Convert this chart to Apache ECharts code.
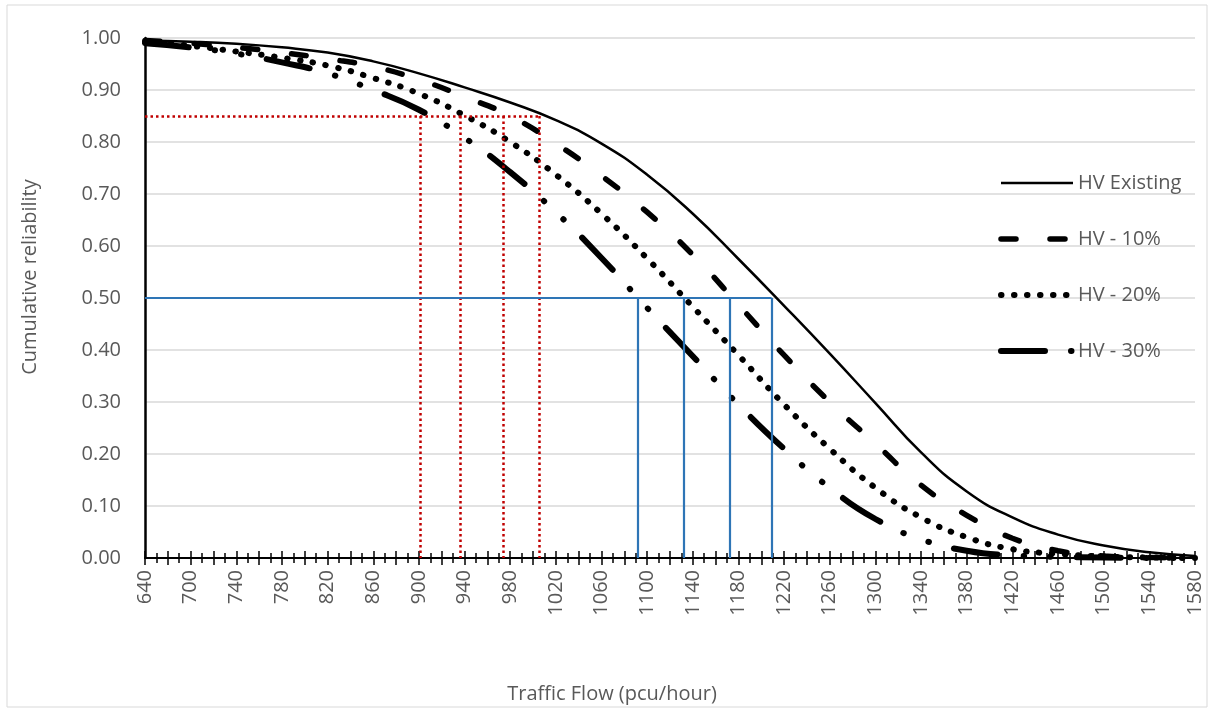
<!DOCTYPE html>
<html lang="en">
<head>
<meta charset="UTF-8">
<title>Cumulative reliability vs traffic flow</title>
<script src="https://cdn.jsdelivr.net/npm/echarts@6/dist/echarts.min.js"></script>
<style>
  html, body { margin: 0; background: #fff; }
  #chart { width: 1215px; height: 714px; }
</style>
</head>
<body>
<div id="chart"></div>
<script>
// tick labels printed under the x axis (one every 4 steps of 10 pcu/h)
const tickLabels = ['640', '700', '740', '780', '820', '860', '900', '940', '980', '1020', '1060', '1100',
  '1140', '1180', '1220', '1260', '1300', '1340', '1380', '1420', '1460', '1500', '1540', '1580'];

// flows where the curves were read
const flows = [660, 700, 740, 780, 820, 860, 900, 940, 980, 1020, 1060, 1100,
  1140, 1180, 1220, 1260, 1300, 1340, 1380, 1420, 1460, 1500, 1540, 1580];

const hvExisting = [0.995, 0.993, 0.989, 0.982, 0.972, 0.955, 0.932, 0.905, 0.876, 0.842, 0.797, 0.737,
  0.662, 0.575, 0.485, 0.393, 0.298, 0.203, 0.128, 0.078, 0.045, 0.024, 0.011, 0.004];
const hv10 = [0.995, 0.990, 0.982, 0.972, 0.960, 0.945, 0.920, 0.887, 0.850, 0.797, 0.735, 0.665,
  0.583, 0.487, 0.390, 0.300, 0.220, 0.140, 0.082, 0.038, 0.014, 0.004, 0.001, 0.000];
const hv20 = [0.993, 0.985, 0.974, 0.962, 0.947, 0.923, 0.893, 0.851, 0.800, 0.737, 0.662, 0.576,
  0.483, 0.390, 0.295, 0.210, 0.135, 0.078, 0.040, 0.017, 0.008, 0.003, 0.001, 0.000];
const hv30 = [0.990, 0.982, 0.970, 0.953, 0.932, 0.900, 0.862, 0.808, 0.742, 0.665, 0.577, 0.481,
  0.388, 0.295, 0.210, 0.135, 0.075, 0.036, 0.014, 0.005, 0.002, 0.001, 0.000, 0.000];

// reading lines: flow at 85 % and at 50 % reliability
const redLevel = 0.85;
const redFlows = [901, 936, 974, 1005];
const blueLevel = 0.5;
const blueFlows = [1092, 1132, 1172, 1209];

// the axis is laid out in steps of 10 pcu/h, first tick sits where 660 would be
const X0 = 660, STEP = 10;
const toX = f => (f - X0) / STEP;
const pts = vals => flows.map((f, i) => [toX(f), vals[i]]);

const FONT = 'Open Sans';
const GREY = '#595959';

// line looks shared by the curves and their legend entries
const styles = {
  'HV Existing': { color: '#000', width: 2.5 },
  'HV - 10%': { color: '#000', width: 5.5, type: [15, 34], cap: 'round' },
  'HV - 20%': { color: '#000', width: 6, type: [0.5, 12.5], cap: 'round' },
  'HV - 30%': { color: '#000', width: 6, type: [44, 26, 0.5, 26, 0.5, 26], cap: 'round' }
};

function guideLines(level, xs) {
  const lines = [[{ coord: [toX(X0), level] }, { coord: [toX(Math.max(...xs)), level] }]];
  xs.forEach(f => lines.push([{ coord: [toX(f), level] }, { coord: [toX(f), 0] }]));
  return lines;
}

function curve(name, vals) {
  return {
    name, type: 'line', smooth: true, symbol: 'none',
    data: pts(vals),
    itemStyle: { color: '#000' },
    lineStyle: styles[name]
  };
}

const chart = echarts.init(document.getElementById('chart'));
chart.setOption({
  animation: false,
  textStyle: { fontFamily: FONT },
  grid: { left: 145, right: 20, top: 38, bottom: 156 },
  legend: {
    data: Object.keys(styles).map(name => ({ name, lineStyle: styles[name] })),
    orient: 'vertical',
    left: 993,
    top: 168,
    itemWidth: 72,
    itemHeight: 14,
    itemGap: 36,
    itemStyle: { color: 'rgba(0,0,0,0)', borderWidth: 0 },
    textStyle: { color: GREY, fontSize: 20, fontFamily: FONT }
  },
  xAxis: [{
    type: 'value',
    min: 0,
    max: 92,
    interval: 2,
    axisLine: { lineStyle: { color: '#000', width: 2 } },
    axisTick: { length: 7, lineStyle: { color: '#000', width: 1.5 } },
    minorTick: { show: true, splitNumber: 2, length: 5, lineStyle: { color: '#000', width: 1.5 } },
    splitLine: { show: false },
    axisLabel: {
      rotate: 90,
      margin: 12,
      color: GREY,
      fontSize: 20,
      formatter: v => (v % 4 === 0 ? tickLabels[v / 4] : '')
    }
  }, {
    // second copy of the axis only to draw the tick halves above the line
    type: 'value',
    position: 'bottom',
    min: 0,
    max: 92,
    interval: 2,
    axisLine: { show: false },
    axisTick: { inside: true, length: 7, lineStyle: { color: '#000', width: 1.5 } },
    minorTick: { show: true, splitNumber: 2, length: 5, lineStyle: { color: '#000', width: 1.5 } },
    splitLine: { show: false },
    axisLabel: { show: false }
  }],
  yAxis: {
    type: 'value',
    min: 0,
    max: 1,
    interval: 0.1,
    axisLine: { show: true, lineStyle: { color: '#000', width: 2.5 } },
    axisTick: { show: false },
    splitLine: { lineStyle: { color: '#d9d9d9', width: 1.5 } },
    axisLabel: { color: GREY, fontSize: 20, margin: 24, formatter: v => v.toFixed(2) }
  },
  graphic: [
    { type: 'rect', shape: { x: 7, y: 5, width: 1200, height: 702 }, style: { fill: 'none', stroke: '#d9d9d9', lineWidth: 1 }, silent: true },
    { type: 'text', x: 612, y: 694, style: { text: 'Traffic Flow (pcu/hour)', fill: GREY, font: '20px "Open Sans"', textAlign: 'center', textVerticalAlign: 'middle' } },
    { type: 'text', x: 30, y: 277, rotation: Math.PI / 2, style: { text: 'Cumulative reliability', fill: GREY, font: '20px "Open Sans"', textAlign: 'center', textVerticalAlign: 'middle' } }
  ],
  series: [
    {
      name: 'guide85', type: 'line', data: [], silent: true,
      markLine: {
        silent: true, symbol: ['none', 'none'], label: { show: false },
        lineStyle: { color: '#c00000', width: 2.5, type: [2.5, 3] },
        data: guideLines(redLevel, redFlows)
      }
    },
    {
      name: 'guide50', type: 'line', data: [], silent: true,
      markLine: {
        silent: true, symbol: ['none', 'none'], label: { show: false },
        lineStyle: { color: '#2e75b6', width: 2.2, type: 'solid' },
        data: guideLines(blueLevel, blueFlows)
      }
    },
    curve('HV Existing', hvExisting),
    curve('HV - 10%', hv10),
    curve('HV - 20%', hv20),
    curve('HV - 30%', hv30)
  ]
});
</script>
</body>
</html>
